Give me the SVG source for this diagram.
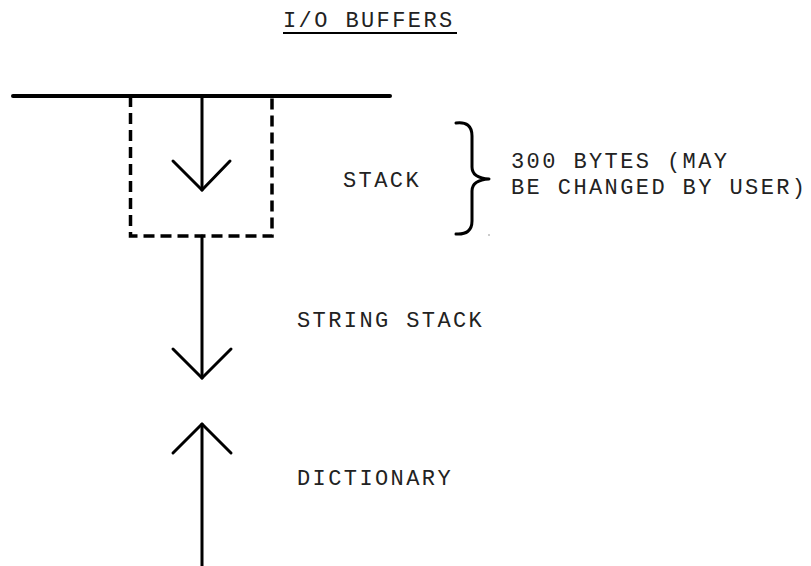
<svg xmlns="http://www.w3.org/2000/svg" width="811" height="566" viewBox="0 0 811 566">
<style>
text{font-family:"Liberation Mono","Courier New",monospace;font-size:22px;letter-spacing:2.4px;fill:#222}
.ln{stroke:#000;stroke-width:3;fill:none;stroke-linecap:round;stroke-linejoin:round}
.dash{stroke:#000;stroke-width:3.5;fill:none;stroke-dasharray:11 6}
</style>
<rect width="811" height="566" fill="#fff"/>
<g id="title">
<text x="283" y="27">I/O BUFFERS</text>
<line x1="283" y1="33" x2="457" y2="33" stroke="#000" stroke-width="2"/>
</g>
<g id="io-buffers-boundary">
<line x1="13" y1="96" x2="390" y2="96" stroke="#000" stroke-width="4" stroke-linecap="round"/>
</g>
<g id="stack-box">
<path class="dash" d="M130.5,96 V236 H272 V96"/>
<text x="343" y="187">STACK</text>
</g>
<g id="stack-note">
<path class="ln" d="M456,123 Q472,121 472,136 L472,167 Q472,178 489,179 Q472,180 472,191 L472,221 Q472,235 456,234"/>
<text x="511" y="168">300 BYTES (MAY</text>
<text x="511" y="194">BE CHANGED BY USER)</text>
<rect x="488.5" y="234" width="1" height="2" fill="#999"/>
</g>
<g id="string-stack">
<text x="297" y="327">STRING STACK</text>
</g>
<g id="dictionary">
<text x="297" y="485">DICTIONARY</text>
</g>
<g id="connectors">
<line class="ln" x1="202" y1="96" x2="202" y2="190"/>
<polyline class="ln" points="173,161 202,190 230,161"/>
<line class="ln" x1="202" y1="236" x2="202" y2="378"/>
<polyline class="ln" points="173,349 202,378 231,349"/>
<line class="ln" x1="202" y1="424" x2="202" y2="568"/>
<polyline class="ln" points="173,453 202,424 231,453"/>
</g>
</svg>
